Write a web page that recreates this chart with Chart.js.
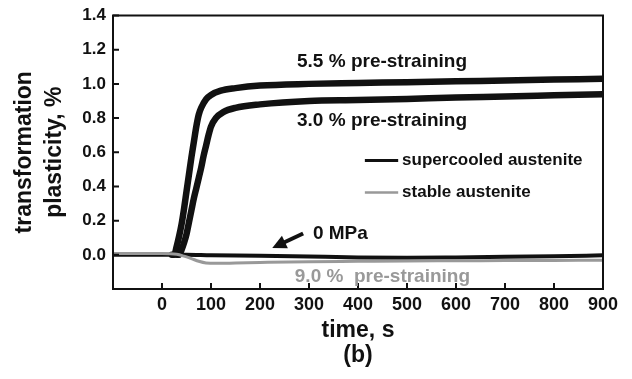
<!DOCTYPE html>
<html><head><meta charset="utf-8">
<script src="https://cdn.jsdelivr.net/npm/chart.js@4.4.1/dist/chart.umd.min.js"></script>
<style>html,body{margin:0;padding:0;background:#fff}#wrap{width:632px;height:379px}</style>
</head><body><div id="wrap"><canvas id="c" width="632" height="379"></canvas></div>
<script>
// ---- data ----
const time55 = [20, 25, 30, 35, 40, 45, 50, 55, 60, 65, 70, 75, 80, 90, 100, 120, 150, 200, 300, 400, 500, 600, 700, 800, 900];
const plast55 = [0, 0.0, 0.05, 0.11, 0.18, 0.27, 0.37, 0.47, 0.57, 0.66, 0.75, 0.82, 0.86, 0.91, 0.935, 0.96, 0.975, 0.99, 1.0, 1.005, 1.01, 1.015, 1.02, 1.025, 1.03];
const time30 = [30, 35, 40, 45, 50, 55, 60, 65, 70, 75, 80, 85, 90, 95, 100, 110, 125, 150, 200, 300, 400, 500, 600, 700, 800, 900];
const plast30 = [0, 0.0, 0.03, 0.07, 0.12, 0.19, 0.26, 0.33, 0.39, 0.45, 0.51, 0.58, 0.64, 0.7, 0.75, 0.8, 0.835, 0.86, 0.88, 0.9, 0.905, 0.912, 0.92, 0.926, 0.933, 0.94];
const time0 = [-100, 0, 50, 100, 200, 300, 400, 500, 600, 700, 800, 900];
const plast0 = [0, 0, 0, -0.003, -0.005, -0.01, -0.015, -0.017, -0.015, -0.012, -0.008, -0.003];
const timeStable = [-100, 0, 30, 45, 60, 75, 90, 110, 150, 200, 300, 400, 500, 600, 700, 800, 900];
const plastStable = [0.008, 0.008, 0.003, -0.008, -0.022, -0.038, -0.048, -0.05, -0.048, -0.045, -0.04, -0.038, -0.036, -0.035, -0.034, -0.033, -0.032];
const xTicks = [0, 100, 200, 300, 400, 500, 600, 700, 800, 900];
const yTicks = [0.0, 0.2, 0.4, 0.6, 0.8, 1.0, 1.2, 1.4];
const seriesNames = ['stable austenite', '0 MPa', '3.0 % pre-straining', '5.5 % pre-straining'];

const pts = (xs, ys) => xs.map((x, i) => ({x, y: ys[i]}));
const FONT = '"Liberation Sans", Arial, sans-serif';

const decor = {
  id: 'decor',
  afterDatasetsDraw(chart) {
    const {ctx, chartArea: a, scales: {x, y}} = chart;
    ctx.save();
    // frame
    ctx.strokeStyle = '#111'; ctx.lineWidth = 2;
    ctx.strokeRect(a.left, a.top, a.right - a.left, a.bottom - a.top);
    // inward ticks
    ctx.beginPath();
    xTicks.forEach(v => { const px = x.getPixelForValue(v); ctx.moveTo(px, a.bottom); ctx.lineTo(px, a.bottom - 6); });
    yTicks.forEach(v => { const py = y.getPixelForValue(v); ctx.moveTo(a.left, py); ctx.lineTo(a.left + 6, py); });
    ctx.stroke();
    // texts
    const txt = (s, tx, ty, align, color, size) => {
      ctx.fillStyle = color; ctx.font = 'bold ' + size + 'px ' + FONT;
      ctx.textAlign = align; ctx.textBaseline = 'middle';
      ctx.fillText(s, x.getPixelForValue(tx), y.getPixelForValue(ty));
    };
    txt('5.5 % pre-straining', 449, 1.13, 'center', '#111', 19);
    txt('3.0 % pre-straining', 449, 0.785, 'center', '#111', 19);
    txt('0 MPa', 308, 0.125, 'left', '#111', 19);
    txt('9.0 %  pre-straining', 271, -0.13, 'left', '#999', 19);
    // legend
    ctx.lineWidth = 3; ctx.strokeStyle = '#111';
    ctx.beginPath(); ctx.moveTo(x.getPixelForValue(414), y.getPixelForValue(0.552)); ctx.lineTo(x.getPixelForValue(482), y.getPixelForValue(0.552)); ctx.stroke();
    ctx.lineWidth = 2.5; ctx.strokeStyle = '#999';
    ctx.beginPath(); ctx.moveTo(x.getPixelForValue(414), y.getPixelForValue(0.364)); ctx.lineTo(x.getPixelForValue(482), y.getPixelForValue(0.364)); ctx.stroke();
    txt('supercooled austenite', 490, 0.552, 'left', '#111', 17);
    txt('stable austenite', 490, 0.364, 'left', '#111', 17);
    // arrow
    const tx0 = x.getPixelForValue(288), ty0 = y.getPixelForValue(0.125);
    const tx1 = x.getPixelForValue(225), ty1 = y.getPixelForValue(0.04);
    const ang = Math.atan2(ty1 - ty0, tx1 - tx0);
    ctx.strokeStyle = '#111'; ctx.fillStyle = '#111'; ctx.lineWidth = 4;
    ctx.beginPath(); ctx.moveTo(tx0, ty0);
    ctx.lineTo(tx1 - 10 * Math.cos(ang), ty1 - 10 * Math.sin(ang)); ctx.stroke();
    ctx.beginPath(); ctx.moveTo(tx1, ty1);
    ctx.lineTo(tx1 - 14 * Math.cos(ang) + 7 * Math.sin(ang), ty1 - 14 * Math.sin(ang) - 7 * Math.cos(ang));
    ctx.lineTo(tx1 - 14 * Math.cos(ang) - 7 * Math.sin(ang), ty1 - 14 * Math.sin(ang) + 7 * Math.cos(ang));
    ctx.closePath(); ctx.fill();
    // panel label, centred under the plot
    ctx.fillStyle = '#111'; ctx.font = 'bold 23px ' + FONT;
    ctx.textAlign = 'center'; ctx.textBaseline = 'middle';
    ctx.fillText('(b)', (a.left + a.right) / 2, 356);
    ctx.restore();
  }
};

new Chart(document.getElementById('c'), {
  type: 'line',
  data: {
    datasets: [
      {label: seriesNames[0], data: pts(timeStable, plastStable), borderColor: '#999', borderWidth: 3},
      {label: seriesNames[1], data: pts(time0, plast0), borderColor: '#111', borderWidth: 4},
      {label: seriesNames[2], data: pts(time30, plast30), borderColor: '#111', borderWidth: 6.5},
      {label: seriesNames[3], data: pts(time55, plast55), borderColor: '#111', borderWidth: 6.5}
    ]
  },
  options: {
    responsive: false, animation: false, devicePixelRatio: 1,
    layout: {padding: {left: 0, right: 29, top: 9, bottom: 0}},
    elements: {point: {radius: 0}, line: {cubicInterpolationMode: 'monotone', borderCapStyle: 'round', borderJoinStyle: 'round'}},
    plugins: {legend: {display: false}, tooltip: {enabled: false}},
    scales: {
      x: {
        type: 'linear', min: -100, max: 900,
        afterBuildTicks: s => { s.ticks = [-100].concat(xTicks).map(v => ({value: v})); },
        afterFit: s => { s.height = 90; },
        grid: {display: false, drawTicks: false},
        border: {display: false},
        ticks: {color: '#111', padding: 7, font: {family: FONT, size: 18, weight: 'bold', lineHeight: 1}, maxRotation: 0,
          callback: v => (v < 0 ? '' : String(v))},
        title: {display: true, text: 'time, s', color: '#111', font: {family: FONT, size: 23, weight: 'bold', lineHeight: 1}, padding: {top: 0, bottom: 37}}
      },
      y: {
        type: 'linear', min: -0.2, max: 1.4,
        afterBuildTicks: s => { s.ticks = [-0.2].concat(yTicks).map(v => ({value: v})); },
        afterFit: s => { s.width = 113; },
        grid: {display: false, drawTicks: false},
        border: {display: false},
        ticks: {color: '#111', padding: 7, font: {family: FONT, size: 17, weight: 'bold', lineHeight: 1},
          callback: v => (v < 0 ? '' : v.toFixed(1))},
        title: {display: true, text: ['transformation', 'plasticity, %'], color: '#111',
          font: {family: FONT, size: 23, weight: 'bold', lineHeight: 1.3}, padding: {top: 10, bottom: 0}}
      }
    }
  },
  plugins: [decor]
});
</script></body></html>
